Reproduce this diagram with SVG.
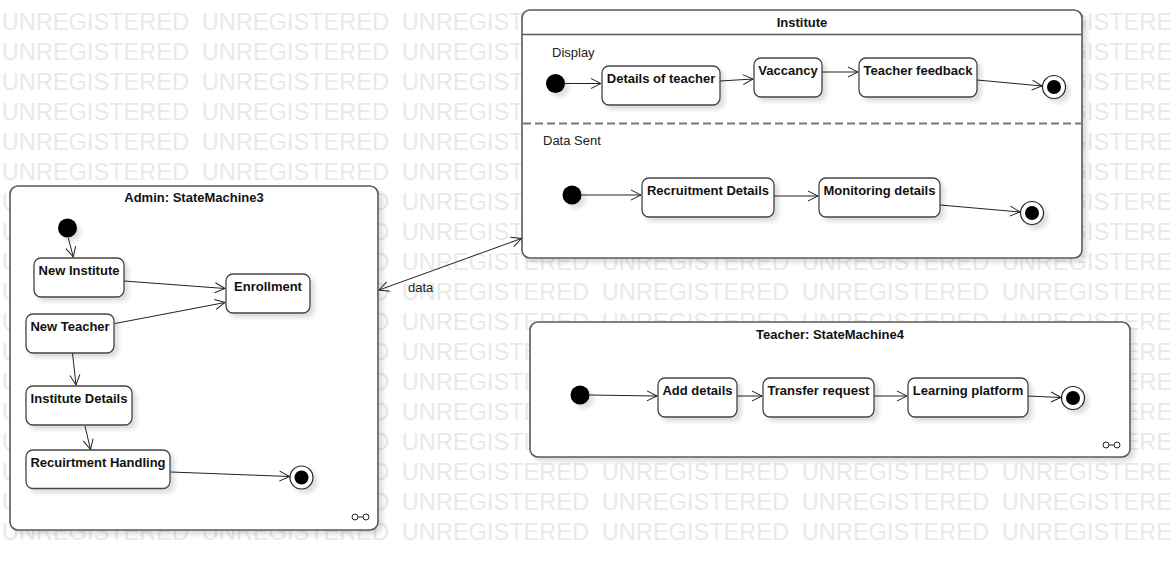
<svg xmlns="http://www.w3.org/2000/svg" width="1170" height="570" viewBox="0 0 1170 570">
<style>
.wm{font-family:"Liberation Sans",Arial,sans-serif;font-size:23.6px;fill:#e9e9e9}
.frame{fill:#fff;stroke:#5a5a5a;stroke-width:1.6}
.st{fill:#fff;stroke:#444;stroke-width:1.3}
.lbl{font-family:"Liberation Sans",Arial,sans-serif;font-size:13px;font-weight:bold;fill:#111;text-anchor:middle}
.reg{font-family:"Liberation Sans",Arial,sans-serif;font-size:13px;fill:#222}
.init{fill:#000}
.fin{fill:#fff;stroke:#222;stroke-width:1.2}
.edge{fill:none;stroke:#222;stroke-width:1}
.link{fill:#fff;stroke:#222;stroke-width:1}
</style>
<defs>
<filter id="sh" x="-20%" y="-20%" width="150%" height="150%">
<feDropShadow dx="4" dy="4" stdDeviation="2.2" flood-color="#000" flood-opacity="0.13"/>
</filter>
<marker id="arr" markerUnits="userSpaceOnUse" markerWidth="14" markerHeight="14" refX="11" refY="6" orient="auto-start-reverse">
<path d="M1,1 L11,6 L1,11" fill="none" stroke="#222" stroke-width="1"/>
</marker>
</defs>
<g id="watermark">
<text class="wm" x="1.7" y="30">UNREGISTERED</text><text class="wm" x="201.7" y="30">UNREGISTERED</text><text class="wm" x="401.7" y="30">UNREGIST</text><text class="wm" x="1068.56" y="30">GISTERE</text>
<text class="wm" x="1.7" y="60">UNREGISTERED</text><text class="wm" x="201.7" y="60">UNREGISTERED</text><text class="wm" x="401.7" y="60">UNREGIST</text><text class="wm" x="1068.56" y="60">GISTERE</text>
<text class="wm" x="1.7" y="90">UNREGISTERED</text><text class="wm" x="201.7" y="90">UNREGISTERED</text><text class="wm" x="401.7" y="90">UNREGIST</text><text class="wm" x="1068.56" y="90">GISTERE</text>
<text class="wm" x="1.7" y="120">UNREGISTERED</text><text class="wm" x="201.7" y="120">UNREGISTERED</text><text class="wm" x="401.7" y="120">UNREGIST</text><text class="wm" x="1068.56" y="120">GISTERE</text>
<text class="wm" x="1.7" y="150">UNREGISTERED</text><text class="wm" x="201.7" y="150">UNREGISTERED</text><text class="wm" x="401.7" y="150">UNREGIST</text><text class="wm" x="1068.56" y="150">GISTERE</text>
<text class="wm" x="1.7" y="180">UNREGISTERED</text><text class="wm" x="201.7" y="180">UNREGISTERED</text><text class="wm" x="401.7" y="180">UNREGIST</text><text class="wm" x="1068.56" y="180">GISTERE</text>
<text class="wm" x="1.7" y="210">U</text><text class="wm" x="372.16" y="210">D</text><text class="wm" x="401.7" y="210">UNREGIST</text><text class="wm" x="1068.56" y="210">GISTERE</text>
<text class="wm" x="1.7" y="240">U</text><text class="wm" x="372.16" y="240">D</text><text class="wm" x="401.7" y="240">UNREGIST</text><text class="wm" x="1068.56" y="240">GISTERE</text>
<text class="wm" x="1.7" y="270">U</text><text class="wm" x="372.16" y="270">D</text><text class="wm" x="401.7" y="270">UNREGISTERED</text><text class="wm" x="601.7" y="270">UNREGISTERED</text><text class="wm" x="801.7" y="270">UNREGISTERED</text><text class="wm" x="1001.7" y="270">UNREGISTERE</text>
<text class="wm" x="1.7" y="300">U</text><text class="wm" x="372.16" y="300">D</text><text class="wm" x="401.7" y="300">UNREGISTERED</text><text class="wm" x="601.7" y="300">UNREGISTERED</text><text class="wm" x="801.7" y="300">UNREGISTERED</text><text class="wm" x="1001.7" y="300">UNREGISTERE</text>
<text class="wm" x="1.7" y="330">U</text><text class="wm" x="372.16" y="330">D</text><text class="wm" x="401.7" y="330">UNREGISTERED</text><text class="wm" x="601.7" y="330">UNREGISTERED</text><text class="wm" x="801.7" y="330">UNREGISTERED</text><text class="wm" x="1001.7" y="330">UNREGISTERE</text>
<text class="wm" x="1.7" y="360">U</text><text class="wm" x="372.16" y="360">D</text><text class="wm" x="401.7" y="360">UNREGISTE</text><text class="wm" x="1123.64" y="360">ERE</text>
<text class="wm" x="1.7" y="390">U</text><text class="wm" x="372.16" y="390">D</text><text class="wm" x="401.7" y="390">UNREGISTE</text><text class="wm" x="1123.64" y="390">ERE</text>
<text class="wm" x="1.7" y="420">U</text><text class="wm" x="372.16" y="420">D</text><text class="wm" x="401.7" y="420">UNREGISTE</text><text class="wm" x="1123.64" y="420">ERE</text>
<text class="wm" x="1.7" y="450">U</text><text class="wm" x="372.16" y="450">D</text><text class="wm" x="401.7" y="450">UNREGISTE</text><text class="wm" x="1123.64" y="450">ERE</text>
<text class="wm" x="1.7" y="480">U</text><text class="wm" x="372.16" y="480">D</text><text class="wm" x="401.7" y="480">UNREGISTERED</text><text class="wm" x="601.7" y="480">UNREGISTERED</text><text class="wm" x="801.7" y="480">UNREGISTERED</text><text class="wm" x="1001.7" y="480">UNREGISTERE</text>
<text class="wm" x="1.7" y="510">U</text><text class="wm" x="372.16" y="510">D</text><text class="wm" x="401.7" y="510">UNREGISTERED</text><text class="wm" x="601.7" y="510">UNREGISTERED</text><text class="wm" x="801.7" y="510">UNREGISTERED</text><text class="wm" x="1001.7" y="510">UNREGISTERE</text>
<text class="wm" x="1.7" y="540">UNREGISTERED</text><text class="wm" x="201.7" y="540">UNREGISTERED</text><text class="wm" x="401.7" y="540">UNREGISTERED</text><text class="wm" x="601.7" y="540">UNREGISTERED</text><text class="wm" x="801.7" y="540">UNREGISTERED</text><text class="wm" x="1001.7" y="540">UNREGISTERE</text>
</g>

<g id="admin-frame">
<rect class="frame" x="10" y="186" width="368" height="344" rx="8" filter="url(#sh)"/>
<text class="lbl" x="194" y="202">Admin: StateMachine3</text>
<g class="link"><line x1="355" y1="517" x2="366" y2="517"/><circle cx="355" cy="517" r="3"/><circle cx="366" cy="517" r="3"/></g>
</g>
<g id="institute-frame">
<rect class="frame" x="522" y="10" width="560" height="248" rx="8" filter="url(#sh)"/>
<line x1="522" y1="34.5" x2="1082" y2="34.5" stroke="#5a5a5a" stroke-width="1.6"/>
<text class="lbl" x="802" y="27">Institute</text>
<line x1="523" y1="123.5" x2="1081" y2="123.5" stroke="#777" stroke-width="2" stroke-dasharray="8,4"/>
<text class="reg" x="552" y="57">Display</text>
<text class="reg" x="543" y="145">Data Sent</text>
</g>
<g id="teacher-frame">
<rect class="frame" x="530" y="322" width="600" height="135" rx="8" filter="url(#sh)"/>
<text class="lbl" x="830" y="339">Teacher: StateMachine4</text>
<g class="link"><line x1="1106" y1="445" x2="1117" y2="445"/><circle cx="1106" cy="445" r="3"/><circle cx="1117" cy="445" r="3"/></g>
</g>

<g id="connectors">
<line class="edge" x1="68.3" y1="238" x2="73.3" y2="257" marker-end="url(#arr)"/>
<line class="edge" x1="124" y1="281" x2="225" y2="288.5" marker-end="url(#arr)"/>
<line class="edge" x1="115" y1="323.5" x2="225" y2="302.5" marker-end="url(#arr)"/>
<line class="edge" x1="72.5" y1="353" x2="76" y2="385" marker-end="url(#arr)"/>
<line class="edge" x1="85" y1="426" x2="90.5" y2="449.5" marker-end="url(#arr)"/>
<line class="edge" x1="170.5" y1="472" x2="289.5" y2="476.5" marker-end="url(#arr)"/>
<line class="edge" x1="565" y1="83.5" x2="601" y2="83.5" marker-end="url(#arr)"/>
<line class="edge" x1="720" y1="81" x2="753" y2="79" marker-end="url(#arr)"/>
<line class="edge" x1="822" y1="72" x2="858" y2="72" marker-end="url(#arr)"/>
<line class="edge" x1="977" y1="80" x2="1042" y2="86" marker-end="url(#arr)"/>
<line class="edge" x1="581.5" y1="195" x2="641" y2="195" marker-end="url(#arr)"/>
<line class="edge" x1="774" y1="196" x2="818" y2="196" marker-end="url(#arr)"/>
<line class="edge" x1="940" y1="205" x2="1020" y2="212" marker-end="url(#arr)"/>
<line class="edge" x1="589.5" y1="395" x2="657" y2="396" marker-end="url(#arr)"/>
<line class="edge" x1="737" y1="396" x2="762" y2="396" marker-end="url(#arr)"/>
<line class="edge" x1="874" y1="396" x2="907" y2="396" marker-end="url(#arr)"/>
<line class="edge" x1="1028" y1="396" x2="1061" y2="397.5" marker-end="url(#arr)"/>
<line class="edge" x1="379" y1="290" x2="521.5" y2="238.5" marker-start="url(#arr)" marker-end="url(#arr)"/>
<text class="reg" x="408" y="292">data</text>
</g>

<g id="admin-initial"><circle class="init" cx="67.5" cy="228" r="9.5" filter="url(#sh)"/></g>
<g id="new-institute"><rect class="st" x="34" y="258" width="90" height="39" rx="7" filter="url(#sh)"/><text class="lbl" x="79" y="274.5">New Institute</text></g>
<g id="enrollment"><rect class="st" x="226" y="274" width="84" height="39" rx="7" filter="url(#sh)"/><text class="lbl" x="268" y="291">Enrollment</text></g>
<g id="new-teacher"><rect class="st" x="26" y="314" width="88" height="39" rx="7" filter="url(#sh)"/><text class="lbl" x="70" y="331">New Teacher</text></g>
<g id="institute-details"><rect class="st" x="26" y="386" width="106" height="39" rx="7" filter="url(#sh)"/><text class="lbl" x="79" y="403">Institute Details</text></g>
<g id="recuirtment-handling"><rect class="st" x="26" y="450" width="144" height="38.5" rx="7" filter="url(#sh)"/><text class="lbl" x="98" y="467">Recuirtment Handling</text></g>
<g id="admin-final"><circle class="fin" cx="301.5" cy="477.5" r="11.5" filter="url(#sh)"/><circle class="init" cx="301.5" cy="477.5" r="7"/></g>

<g id="display-initial"><circle class="init" cx="555.5" cy="83.5" r="9.5" filter="url(#sh)"/></g>
<g id="details-of-teacher"><rect class="st" x="602" y="66" width="118" height="39" rx="7" filter="url(#sh)"/><text class="lbl" x="661" y="83">Details of teacher</text></g>
<g id="vaccancy"><rect class="st" x="754" y="58" width="68" height="39" rx="7" filter="url(#sh)"/><text class="lbl" x="788" y="75">Vaccancy</text></g>
<g id="teacher-feedback"><rect class="st" x="859" y="58" width="118" height="39" rx="7" filter="url(#sh)"/><text class="lbl" x="918" y="75">Teacher feedback</text></g>
<g id="display-final"><circle class="fin" cx="1054" cy="87" r="11.5" filter="url(#sh)"/><circle class="init" cx="1054" cy="87" r="7"/></g>

<g id="datasent-initial"><circle class="init" cx="572" cy="195" r="9.5" filter="url(#sh)"/></g>
<g id="recruitment-details"><rect class="st" x="642" y="178" width="132" height="39" rx="7" filter="url(#sh)"/><text class="lbl" x="708" y="195">Recruitment Details</text></g>
<g id="monitoring-details"><rect class="st" x="819" y="178" width="121" height="39" rx="7" filter="url(#sh)"/><text class="lbl" x="879.5" y="195">Monitoring details</text></g>
<g id="datasent-final"><circle class="fin" cx="1032" cy="213" r="11.5" filter="url(#sh)"/><circle class="init" cx="1032" cy="213" r="7"/></g>

<g id="teacher-initial"><circle class="init" cx="580" cy="395" r="9.5" filter="url(#sh)"/></g>
<g id="add-details"><rect class="st" x="658" y="378" width="79" height="39" rx="7" filter="url(#sh)"/><text class="lbl" x="697.5" y="395">Add details</text></g>
<g id="transfer-request"><rect class="st" x="763" y="378" width="111" height="39" rx="7" filter="url(#sh)"/><text class="lbl" x="818.5" y="395">Transfer request</text></g>
<g id="learning-platform"><rect class="st" x="908" y="378" width="120" height="39" rx="7" filter="url(#sh)"/><text class="lbl" x="968" y="395">Learning platform</text></g>
<g id="teacher-final"><circle class="fin" cx="1073" cy="398" r="11.5" filter="url(#sh)"/><circle class="init" cx="1073" cy="398" r="7"/></g>
</svg>
